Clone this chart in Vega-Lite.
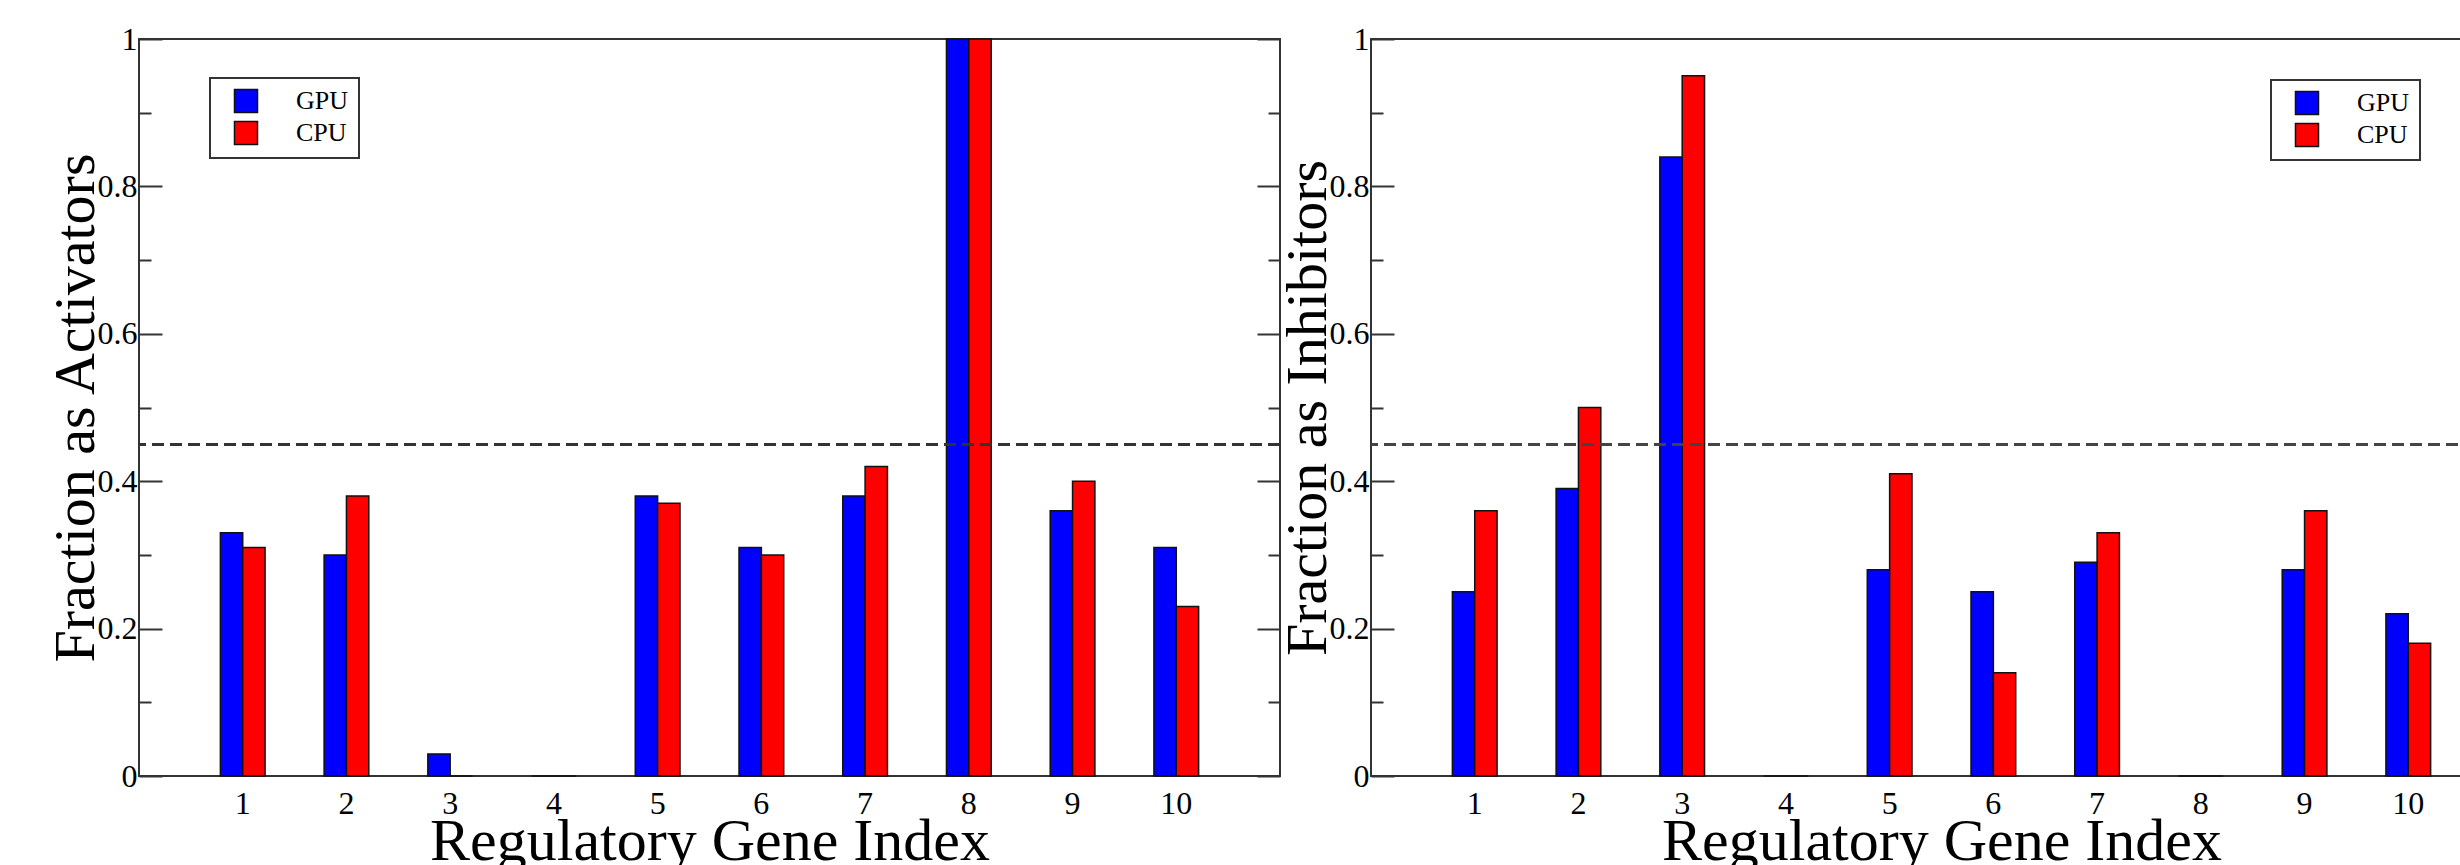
{
  "$schema": "https://vega.github.io/schema/vega-lite/v6.json",
  "background": "white",
  "padding": {"left": 46, "top": 22, "right": 0, "bottom": 0},
  "bounds": "flush",
  "spacing": 91,
  "config": {
    "font": "Liberation Serif",
    "view": {"stroke": "#333", "strokeWidth": 2},
    "axis": {
      "labelFont": "Liberation Serif",
      "titleFont": "Liberation Serif",
      "labelColor": "black",
      "titleColor": "black",
      "titleFontWeight": "normal",
      "tickColor": "#333",
      "tickWidth": 2,
      "domain": false,
      "grid": false
    },
    "legend": {
      "orient": "none",
      "title": null,
      "symbolType": "square",
      "symbolSize": 530,
      "symbolFillOpacity": 1,
      "symbolStrokeColor": "#111",
      "symbolStrokeWidth": 1.5,
      "labelFont": "Liberation Serif",
      "labelFontSize": 26,
      "labelColor": "black",
      "labelOffset": 37,
      "symbolOffset": 13,
      "padding": 10,
      "rowPadding": 2,
      "strokeColor": "#333",
      "strokeWidth": 2,
      "fillColor": "white"
    }
  },
  "resolve": {"scale": {"color": "independent"}, "legend": {"color": "independent"}},
  "hconcat": [
    {
      "width": 1141,
      "height": 737,
      "data": {"values": [
        {"gene": 1, "device": "GPU", "value": 0.33}, {"gene": 1, "device": "CPU", "value": 0.31},
        {"gene": 2, "device": "GPU", "value": 0.30}, {"gene": 2, "device": "CPU", "value": 0.38},
        {"gene": 3, "device": "GPU", "value": 0.03}, {"gene": 3, "device": "CPU", "value": 0.0},
        {"gene": 4, "device": "GPU", "value": 0.0}, {"gene": 4, "device": "CPU", "value": 0.0},
        {"gene": 5, "device": "GPU", "value": 0.38}, {"gene": 5, "device": "CPU", "value": 0.37},
        {"gene": 6, "device": "GPU", "value": 0.31}, {"gene": 6, "device": "CPU", "value": 0.30},
        {"gene": 7, "device": "GPU", "value": 0.38}, {"gene": 7, "device": "CPU", "value": 0.42},
        {"gene": 8, "device": "GPU", "value": 1.0}, {"gene": 8, "device": "CPU", "value": 1.0},
        {"gene": 9, "device": "GPU", "value": 0.36}, {"gene": 9, "device": "CPU", "value": 0.40},
        {"gene": 10, "device": "GPU", "value": 0.31}, {"gene": 10, "device": "CPU", "value": 0.23}
      ]},
      "layer": [
        {
          "mark": {"type": "bar", "stroke": "#111", "strokeWidth": 1.5},
          "encoding": {
            "x": {
              "field": "gene", "type": "ordinal",
              "scale": {"paddingInner": 0.569, "paddingOuter": 0.7845},
              "axis": {
                "labelAngle": 0, "ticks": false, "labelFontSize": 32, "labelPadding": 12,
                "title": "Regulatory Gene Index", "titleFontSize": 60,
                "titleY": 83, "titleBaseline": "alphabetic"
              }
            },
            "xOffset": {"field": "device", "type": "nominal", "sort": ["GPU", "CPU"]},
            "y": {
              "field": "value", "type": "quantitative",
              "scale": {"domain": [0, 1], "nice": false},
              "axis": {
                "orient": "left",
                "values": [0, 0.1, 0.2, 0.3, 0.4, 0.5, 0.6, 0.7, 0.8, 0.9, 1],
                "format": ".1~f",
                "labelExpr": "round(datum.value*10)%2==0 ? datum.label : ''",
                "labelOverlap": false, "labelFlush": false,
                "tickSize": {"condition": {"test": "round(datum.value*10)%2==0", "value": -23}, "value": -12},
                "labelPadding": 25, "labelFontSize": 32, "labelBaseline": "middle",
                "title": "Fraction as Activators", "titleFontSize": 58,
                "titleX": -46, "titleY": 368.5, "titleBaseline": "alphabetic", "titleAngle": -90
              }
            },
            "color": {
              "field": "device", "type": "nominal",
              "scale": {"domain": ["GPU", "CPU"], "range": ["#0000ff", "#ff0000"]},
              "legend": {"legendX": 71, "legendY": 39}
            }
          }
        },
        {
          "mark": {"type": "rule", "strokeDash": [12, 6], "color": "#333", "strokeWidth": 2.2},
          "encoding": {
            "y": {
              "datum": 0.45, "type": "quantitative",
              "axis": {
                "orient": "right",
                "values": [0, 0.1, 0.2, 0.3, 0.4, 0.5, 0.6, 0.7, 0.8, 0.9, 1],
                "labels": false, "title": null,
                "tickSize": {"condition": {"test": "round(datum.value*10)%2==0", "value": -23}, "value": -12}
              }
            }
          }
        }
      ]
    },
    {
      "width": 1141,
      "height": 737,
      "data": {"values": [
        {"gene": 1, "device": "GPU", "value": 0.25}, {"gene": 1, "device": "CPU", "value": 0.36},
        {"gene": 2, "device": "GPU", "value": 0.39}, {"gene": 2, "device": "CPU", "value": 0.50},
        {"gene": 3, "device": "GPU", "value": 0.84}, {"gene": 3, "device": "CPU", "value": 0.95},
        {"gene": 4, "device": "GPU", "value": 0.0}, {"gene": 4, "device": "CPU", "value": 0.0},
        {"gene": 5, "device": "GPU", "value": 0.28}, {"gene": 5, "device": "CPU", "value": 0.41},
        {"gene": 6, "device": "GPU", "value": 0.25}, {"gene": 6, "device": "CPU", "value": 0.14},
        {"gene": 7, "device": "GPU", "value": 0.29}, {"gene": 7, "device": "CPU", "value": 0.33},
        {"gene": 8, "device": "GPU", "value": 0.0}, {"gene": 8, "device": "CPU", "value": 0.0},
        {"gene": 9, "device": "GPU", "value": 0.28}, {"gene": 9, "device": "CPU", "value": 0.36},
        {"gene": 10, "device": "GPU", "value": 0.22}, {"gene": 10, "device": "CPU", "value": 0.18}
      ]},
      "layer": [
        {
          "mark": {"type": "bar", "stroke": "#111", "strokeWidth": 1.5},
          "encoding": {
            "x": {
              "field": "gene", "type": "ordinal",
              "scale": {"paddingInner": 0.569, "paddingOuter": 0.7845},
              "axis": {
                "labelAngle": 0, "ticks": false, "labelFontSize": 32, "labelPadding": 12,
                "title": "Regulatory Gene Index", "titleFontSize": 60,
                "titleY": 83, "titleBaseline": "alphabetic"
              }
            },
            "xOffset": {"field": "device", "type": "nominal", "sort": ["GPU", "CPU"]},
            "y": {
              "field": "value", "type": "quantitative",
              "scale": {"domain": [0, 1], "nice": false},
              "axis": {
                "orient": "left",
                "values": [0, 0.1, 0.2, 0.3, 0.4, 0.5, 0.6, 0.7, 0.8, 0.9, 1],
                "format": ".1~f",
                "labelExpr": "round(datum.value*10)%2==0 ? datum.label : ''",
                "labelOverlap": false, "labelFlush": false,
                "tickSize": {"condition": {"test": "round(datum.value*10)%2==0", "value": -23}, "value": -12},
                "labelPadding": 25, "labelFontSize": 32, "labelBaseline": "middle",
                "title": "Fraction as Inhibitors", "titleFontSize": 58,
                "titleX": -46, "titleY": 368.5, "titleBaseline": "alphabetic", "titleAngle": -90
              }
            },
            "color": {
              "field": "device", "type": "nominal",
              "scale": {"domain": ["GPU", "CPU"], "range": ["#0000ff", "#ff0000"]},
              "legend": {"legendX": 900, "legendY": 41}
            }
          }
        },
        {
          "mark": {"type": "rule", "strokeDash": [12, 6], "color": "#444", "strokeWidth": 1.8},
          "encoding": {
            "y": {
              "datum": 0.45, "type": "quantitative",
              "axis": {
                "orient": "right",
                "values": [0, 0.1, 0.2, 0.3, 0.4, 0.5, 0.6, 0.7, 0.8, 0.9, 1],
                "labels": false, "title": null,
                "tickSize": {"condition": {"test": "round(datum.value*10)%2==0", "value": -23}, "value": -12}
              }
            }
          }
        }
      ]
    }
  ]
}
